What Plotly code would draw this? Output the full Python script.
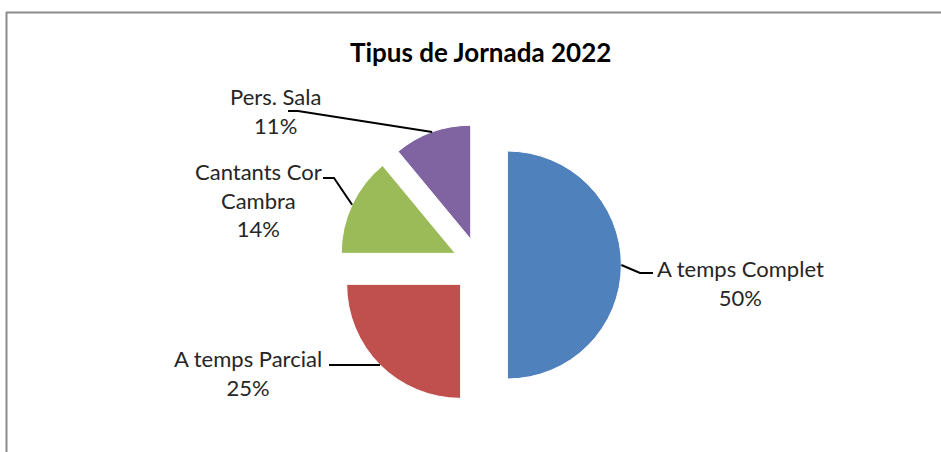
import math
import plotly.graph_objects as go

# ---- data ----
labels = ["A temps Complet", "A temps Parcial", "Cantants Cor Cambra", "Pers. Sala"]
label_lines = ["A temps Complet", "A temps Parcial", "Cantants Cor<br>Cambra", "Pers. Sala"]
values = [50, 25, 14, 11]
colors = ["#4F81BD", "#C0504D", "#9BBB59", "#8064A2"]
title = "Tipus de Jornada 2022"

# ---- layout (pixels) ----
W, H = 941, 452
CX, CY = 480, 265          # pie centre
R = 114                    # pie radius
PULL = 0.24
FONT = "Lato"
LBL_SIZE = 22

# label block centres and leader-line elbows (pixel space)
label_pos = [(740, 283), (248, 373), (258, 200), (275, 111)]
elbow = [[(640, 273), (653, 273)], [(329, 365)], [(334, 178), (323, 178)], [(298, 111), (288, 111)]]


def px(x):
    return x / W


def py(y):
    return 1 - y / H


fig = go.Figure()
half = R * (1 + PULL)
fig.add_trace(go.Pie(
    labels=labels, values=values, sort=False, direction="clockwise", rotation=0,
    pull=[PULL] * len(values), textinfo="none", hoverinfo="label+percent",
    marker=dict(colors=colors, line=dict(color="white", width=1)),
    domain=dict(x=[px(CX - 250), px(CX + 250)], y=[py(CY + half), py(CY - half)]),
    showlegend=False,
))

total = sum(values)
shapes = []
annotations = []
cum = 0
for i, v in enumerate(values):
    mid = (cum + v / 2) / total * 2 * math.pi
    cum += v
    dx, dy = math.sin(mid), -math.cos(mid)
    apx = CX + dx * R * PULL
    apy = CY + dy * R * PULL
    ax_, ay_ = apx + dx * R, apy + dy * R
    pts = [(ax_, ay_)] + elbow[i]
    path = "M " + " L ".join(f"{px(x)},{py(y)}" for x, y in pts)
    shapes.append(dict(type="path", xref="paper", yref="paper", path=path,
                       line=dict(color="black", width=2)))
    pct = round(v / total * 100)
    annotations.append(dict(
        x=px(label_pos[i][0]), y=py(label_pos[i][1]), xref="paper", yref="paper",
        text=f"{label_lines[i]}<br>{pct}%", showarrow=False, align="center",
        xanchor="center", yanchor="middle",
        font=dict(family=FONT, size=LBL_SIZE, color="#262626"),
    ))

annotations.append(dict(
    x=px(480), y=py(52), xref="paper", yref="paper", text=f"<b>{title}</b>",
    showarrow=False, xanchor="center", yanchor="middle",
    font=dict(family=FONT, size=26, color="black"),
))

# chart frame (top and left edges)
shapes.append(dict(type="line", xref="paper", yref="paper", x0=px(6), x1=1, y0=py(12.5), y1=py(12.5),
                   line=dict(color="#8a8a8a", width=2)))
shapes.append(dict(type="line", xref="paper", yref="paper", x0=px(6.5), x1=px(6.5), y0=py(12), y1=0,
                   line=dict(color="#8a8a8a", width=2)))

fig.update_layout(
    width=W, height=H, margin=dict(l=0, r=0, t=0, b=0),
    paper_bgcolor="white", plot_bgcolor="white",
    shapes=shapes, annotations=annotations,
)

fig.write_html("out.html", config={"displayModeBar": False},
               post_script="document.body.style.margin='0';document.body.style.padding='0';")
